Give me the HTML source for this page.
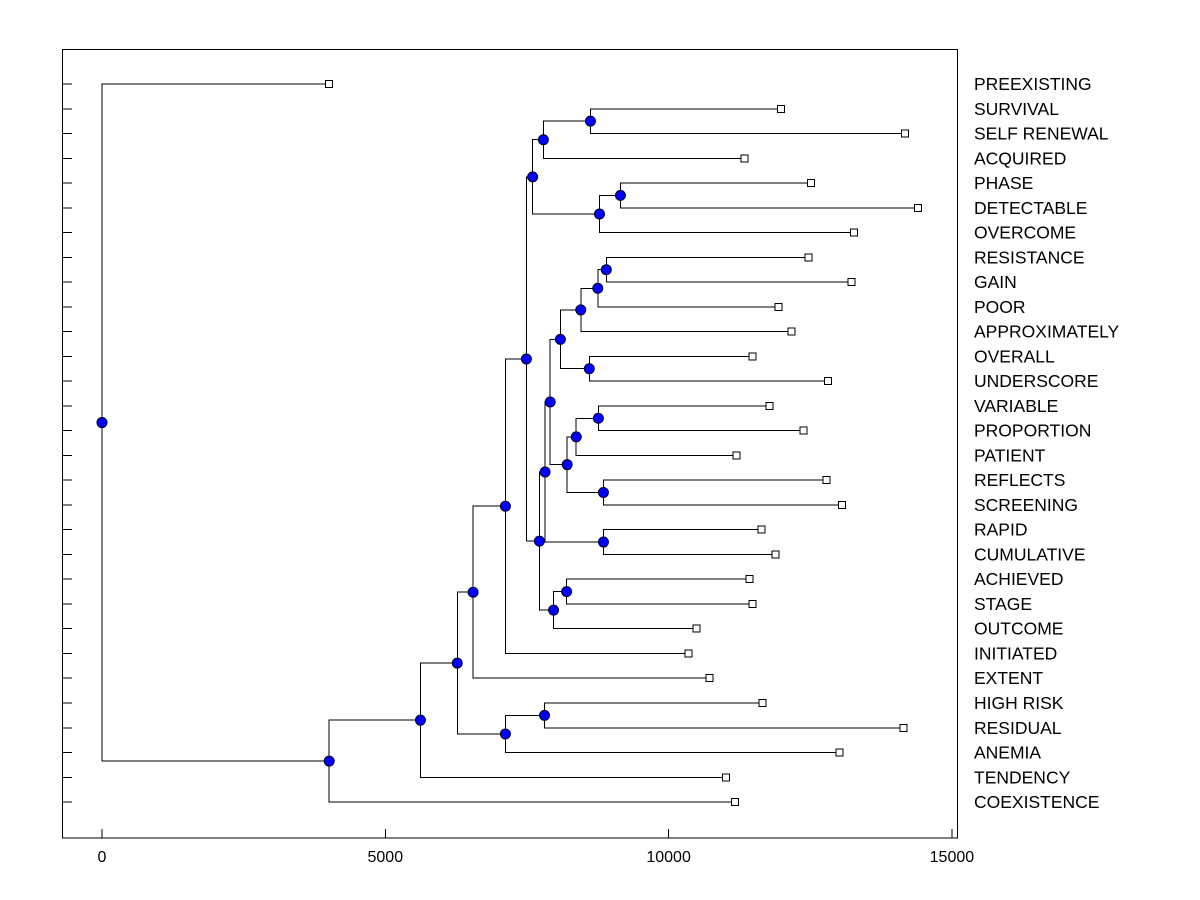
<!DOCTYPE html>
<html><head><meta charset="utf-8"><style>
html,body{margin:0;padding:0;background:#fff;}
svg{display:block;font-family:"Liberation Sans",Arial,sans-serif;}
</style></head><body>
<svg id="chart" width="1200" height="900"></svg>
<script>
const leafNames=["PREEXISTING","SURVIVAL","SELF RENEWAL","ACQUIRED","PHASE","DETECTABLE","OVERCOME","RESISTANCE","GAIN","POOR","APPROXIMATELY","OVERALL","UNDERSCORE","VARIABLE","PROPORTION","PATIENT","REFLECTS","SCREENING","RAPID","CUMULATIVE","ACHIEVED","STAGE","OUTCOME","INITIATED","EXTENT","HIGH RISK","RESIDUAL","ANEMIA","TENDENCY","COEXISTENCE"];
const leafValues=[4010,11980,14170,11340,12510,14400,13270,12470,13230,11940,12170,11480,12810,11780,12380,11200,12790,13060,11640,11890,11430,11480,10490,10350,10720,11660,14150,13020,11010,11170];
const mergeIds=["M1","M2","M3","M4","M5","M6","M7","M8","M9","M10","M11","M12","M13","M14","M15","M16","M17","M18","M19","M20","M21","M22","M23","M24","M25","M26","M27","M28","ROOT"];
const mergeLeft=["SURVIVAL","M1","PHASE","M3","M2","RESISTANCE","M6","M7","OVERALL","M8","VARIABLE","M11","REFLECTS","M12","M10","RAPID","M15","ACHIEVED","M18","M17","M5","M21","HIGH RISK","M23","M22","M25","M26","M27","PREEXISTING"];
const mergeRight=["SELF RENEWAL","ACQUIRED","DETECTABLE","OVERCOME","M4","GAIN","POOR","APPROXIMATELY","UNDERSCORE","M9","PROPORTION","PATIENT","SCREENING","M13","M14","CUMULATIVE","M16","STAGE","OUTCOME","M19","M20","INITIATED","RESIDUAL","ANEMIA","EXTENT","M24","TENDENCY","COEXISTENCE","M28"];
const mergeHeights=[8620,7790,9150,8780,7600,8900,8750,8450,8600,8090,8760,8370,8850,8210,7910,8850,7820,8200,7970,7720,7490,7120,7810,7120,6550,6270,5620,4010,0];
const xTicks=[0,5000,10000,15000];

const svg=document.getElementById('chart');
const NS='http://www.w3.org/2000/svg';
const X0=102, PX=(385.3-102)/5000;
const xs=v=>X0+v*PX;
const rowY=i=>84+i*24.76;
function el(tag,attrs){const e=document.createElementNS(NS,tag);for(const k in attrs)e.setAttribute(k,attrs[k]);svg.appendChild(e);return e;}

const frame=el('rect',{x:62.5,y:49.5,width:895,height:788.5,fill:'none',stroke:'#000','stroke-width':1,'shape-rendering':'crispEdges'});



xTicks.forEach(t=>{
  const tk=el('line',{x1:xs(t),x2:xs(t),y1:829,y2:838,stroke:'#000','shape-rendering':'crispEdges'});
  
  
  const tl=el('text',{x:xs(t),y:862,'text-anchor':'middle','font-size':16,fill:'#000'});
  tl.textContent=t;
  
  
});

const nodes={};
leafNames.forEach((n,i)=>{nodes[n]={x:xs(leafValues[i]),y:rowY(i)};});
mergeIds.forEach((id,k)=>{
  const A=nodes[mergeLeft[k]],B=nodes[mergeRight[k]];
  const x=xs(mergeHeights[k]), y=(A.y+B.y)/2;
  nodes[id]={x,y};
  const p=el('polyline',{points:`${A.x},${A.y} ${x},${A.y} ${x},${B.y} ${B.x},${B.y}`,fill:'none',stroke:'#000','stroke-width':1,'shape-rendering':'crispEdges'});
  
  
});
leafNames.forEach((n,i)=>{
  const y=rowY(i);
  const t=el('line',{x1:62,x2:72,y1:y,y2:y,stroke:'#000','shape-rendering':'crispEdges'});
  
  
  const s=el('rect',{x:xs(leafValues[i])-3.5,y:y-3.5,width:7,height:7,fill:'#fff',stroke:'#000','shape-rendering':'crispEdges'});
  
  
  const l=el('text',{x:974,y:y+6,'font-size':17.5,fill:'#000'});
  l.textContent=n;
  
  
});
mergeIds.forEach(id=>{
  const N=nodes[id];
  const c=el('circle',{cx:N.x,cy:N.y,r:5,fill:'#0000ff',stroke:'#000020','stroke-width':1});
  
  
});
</script>
</body></html>
